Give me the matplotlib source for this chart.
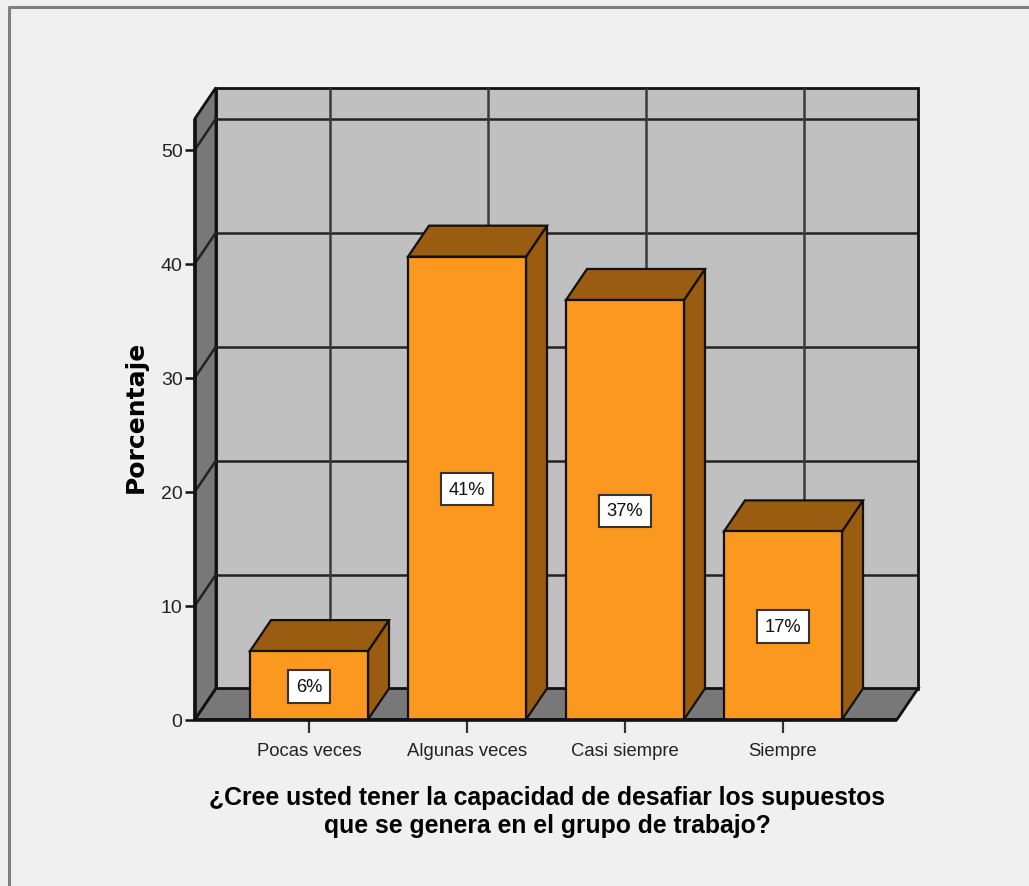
import matplotlib
matplotlib.use("Agg")
import matplotlib.pyplot as plt
from matplotlib.patches import Polygon, Rectangle

categories = ["Pocas veces", "Algunas veces", "Casi siempre", "Siempre"]
values = [6.0, 40.6, 36.8, 16.5]
labels = ["6%", "41%", "37%", "17%"]
y_ticks = [0, 10, 20, 30, 40, 50]
wall_lines_x = [0.133, 1.133, 2.133, 3.133]

W, H = 1029, 887
BG = "#f0f0f0"
WALL = "#c0c0c0"
SIDE = "#787878"
ORANGE = "#fb981f"
DARK = "#995c11"
INK = "#111111"

# depth of the fake 3d box, in data units
dx = 21 / 158
dy = 31 / 11.4
bar_w = 118 / 158
x0, x1 = -114 / 158, 588 / 158
y0, y1 = 0, 601 / 11.4

fig = plt.figure(figsize=(W / 100, H / 100), dpi=100, facecolor=BG)
ax = fig.add_axes([195 / W, 1 - 720.5 / H, 702 / W, 601 / H])
ax.set_xlim(x0, x1)
ax.set_ylim(y0, y1)
ax.patch.set_visible(False)
for s in ax.spines.values():
    s.set_visible(False)


def poly(pts, fc, lw=2.0, z=2):
    ax.add_patch(Polygon(pts, closed=True, fc=fc, ec=INK, lw=lw, clip_on=False,
                         zorder=z, joinstyle="miter"))


def line(xs, ys, lw=1.8, color="#222222", z=3):
    ax.plot(xs, ys, color=color, lw=lw, clip_on=False, zorder=z, solid_capstyle="butt")


# outer frame, only left and top show
fig.add_artist(plt.Line2D([8.5 / W, 8.5 / W, 1], [0, 1 - 7.5 / H, 1 - 7.5 / H],
                          color="#7f7f7f", lw=2.2))

# back wall, side wall, floor
poly([(x0 + dx, dy), (x1 + dx, dy), (x1 + dx, y1 + dy), (x0 + dx, y1 + dy)], WALL, z=1)
poly([(x0, 0), (x0 + dx, dy), (x0 + dx, y1 + dy), (x0, y1)], SIDE, z=1)
poly([(x0, 0), (x1, 0), (x1 + dx, dy), (x0 + dx, dy)], SIDE, z=1)

for v in y_ticks[1:]:
    line([x0 + dx, x1 + dx], [v + dy, v + dy], z=1.5)
    line([x0, x0 + dx], [v, v + dy], z=1.5)
for gx in wall_lines_x:
    line([gx, gx], [dy, y1 + dy], color="#3a3a3a", z=1.5)

# bars
for i, v in enumerate(values):
    l, r = i - bar_w / 2, i + bar_w / 2
    poly([(r, 0), (r + dx, dy), (r + dx, v + dy), (r, v)], DARK, lw=1.6, z=4)
    poly([(l, v), (r, v), (r + dx, v + dy), (l + dx, v + dy)], DARK, lw=1.6, z=4)
    ax.add_patch(Rectangle((l, 0), bar_w, v, fc=ORANGE, ec=INK, lw=1.6, clip_on=False, zorder=5))
    ax.text(i, v / 2 - 0.1, labels[i], ha="center", va="center", fontsize=13.2,
            family="Liberation Sans", color=INK, zorder=7,
            bbox=dict(boxstyle="square,pad=0.42", fc="white", ec="#333333", lw=1.5))

# front axis lines
line([x0, x0], [0, y1], lw=2.6, color=INK, z=6)
line([x0, x1], [0, 0], lw=2.6, color=INK, z=6)

ax.set_xticks(range(len(categories)), categories)
ax.set_yticks(y_ticks)
ax.tick_params(axis="x", length=9, width=1.6, color="#333333", labelsize=13.3, pad=7,
               labelcolor="#222222")
ax.tick_params(axis="y", length=7, width=1.8, color=INK, labelsize=14, pad=2,
               labelcolor="#222222")
for t in ax.get_xticklabels() + ax.get_yticklabels():
    t.set_family("Liberation Sans")

fig.text(136 / W, 1 - 417 / H, "Porcentaje", rotation=90, ha="center", va="center",
         fontsize=18, fontweight="bold", family="DejaVu Sans", color="#000000")
fig.text(547 / W, 1 - 812 / H,
         "¿Cree usted tener la capacidad de desafiar los supuestos\nque se genera en el grupo de trabajo?",
         ha="center", va="center", fontsize=17.85, fontweight="bold", family="Liberation Sans",
         color="#000000", linespacing=1.2)

fig.savefig("out.png", dpi=100, facecolor=BG)
